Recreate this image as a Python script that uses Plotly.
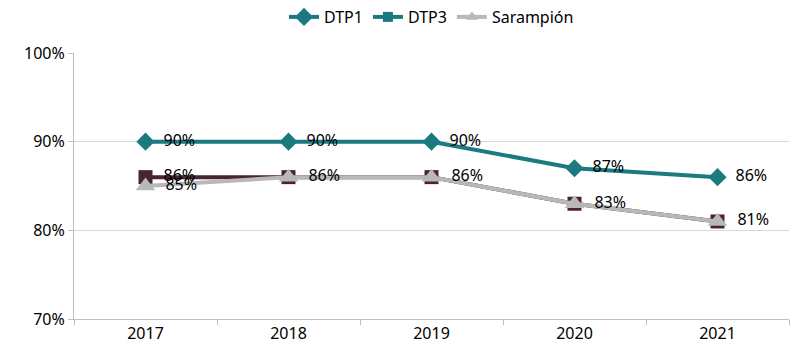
import plotly.graph_objects as go

years = ["2017", "2018", "2019", "2020", "2021"]
dtp1 = [90, 90, 90, 87, 86]
dtp3 = [86, 86, 86, 83, 81]
sarampion = [85, 86, 86, 83, 81]

teal = "#1B7A80"
maroon = "#4A2333"
gray = "#B8B8B8"
font = "Noto Sans"
pad = "\u00a0\u00a0"

def lbl(v):
    return [f"{pad}{x}%" for x in v]

# where DTP3 and Sarampión coincide, one label is enough (they overlap exactly)
dtp3_text = [f"{pad}{a}%" if a != b else "" for a, b in zip(dtp3, sarampion)]

fig = go.Figure()
fig.add_trace(go.Scatter(x=years, y=dtp1, name="DTP1", mode="lines+markers+text",
                         line=dict(color=teal, width=4),
                         marker=dict(symbol="diamond", size=14, color=teal),
                         text=lbl(dtp1), textposition="middle right",
                         textfont=dict(size=16, color="#000000")))
fig.add_trace(go.Scatter(x=years, y=dtp3, name="DTP3", mode="lines+markers+text",
                         line=dict(color=maroon, width=4),
                         marker=dict(symbol="square", size=14, color=maroon),
                         text=dtp3_text, textposition="middle right",
                         textfont=dict(size=16, color="#000000"), showlegend=False))
fig.add_trace(go.Scatter(x=years, y=sarampion, name="Sarampión", mode="lines+markers+text",
                         line=dict(color=gray, width=4),
                         marker=dict(symbol="triangle-up", size=17, color=gray),
                         text=lbl(sarampion), textposition="middle right",
                         textfont=dict(size=16, color="#000000"), showlegend=False))
# legend entries (legend in reference shows DTP3 in teal)
fig.add_trace(go.Scatter(x=[None], y=[None], name="DTP3", mode="lines+markers",
                         line=dict(color=teal, width=4),
                         marker=dict(symbol="square", size=10, color=teal)))
fig.add_trace(go.Scatter(x=[None], y=[None], name="Sarampión", mode="lines+markers",
                         line=dict(color=gray, width=4),
                         marker=dict(symbol="triangle-up", size=11, color=gray)))

fig.update_layout(
    width=800, height=361,
    margin=dict(l=74, r=11, t=53, b=42, autoexpand=False),
    paper_bgcolor="white", plot_bgcolor="white",
    font=dict(family=font, size=16, color="#000000"),
    showlegend=True,
    legend=dict(orientation="h", x=0.5, xanchor="center", y=1.0, yanchor="top",
                yref="container", font=dict(size=16),
                traceorder="normal", tracegroupgap=0),
)
fig.update_xaxes(type="category", range=[-0.5, 4.5], showgrid=False, automargin=False,
                 showline=True, linecolor="#BFBFBF", linewidth=1,
                 ticks="outside", tickson="boundaries", ticklen=5, tickcolor="#BFBFBF",
                 tickfont=dict(size=16), fixedrange=True)
fig.update_yaxes(range=[70, 100], dtick=10, ticksuffix="%", showgrid=True, automargin=False,
                 gridcolor="#D9D9D9", gridwidth=1,
                 showline=True, linecolor="#BFBFBF", linewidth=1,
                 ticks="outside", ticklen=5, tickcolor="#BFBFBF",
                 tickfont=dict(size=16), zeroline=False, fixedrange=True)

fig.write_html("out.html", config={"displayModeBar": False},
               post_script="document.body.style.margin='0px';")
